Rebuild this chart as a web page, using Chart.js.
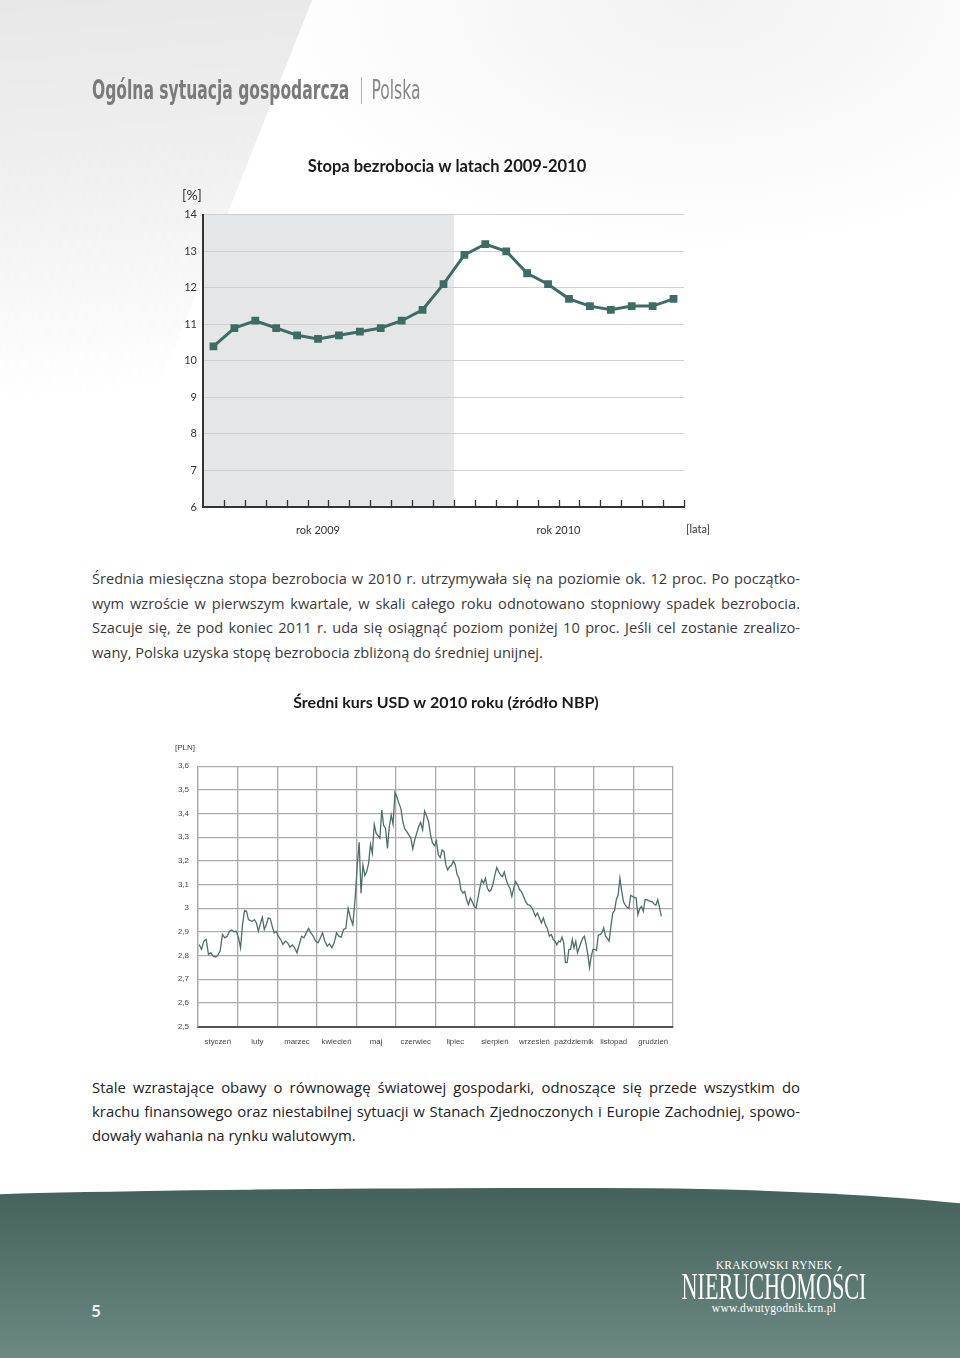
<!DOCTYPE html>
<html lang="pl">
<head>
<meta charset="utf-8">
<title>Ogólna sytuacja gospodarcza | Polska</title>
<script src="https://cdn.jsdelivr.net/npm/chart.js@4.4.1/dist/chart.umd.min.js"></script>
<style>
  html, body { margin: 0; padding: 0; }
  body {
    width: 960px; height: 1358px; position: relative; overflow: hidden;
    background: #fff; font-family: Lato, "Open Sans", sans-serif; color: #333;
  }
  .bg-wedge {
    position: absolute; left: -20px; top: -20px; width: 440px; height: 460px;
    background: linear-gradient(175deg, #e7e7e7 0%, #eeeeee 35%, rgba(255,255,255,0) 85%);
    clip-path: polygon(0 0, 340px 0, 150px 480px, 0 480px);
    filter: blur(5px);
  }
  .bg-glow {
    position: absolute; left: 250px; top: -260px; width: 900px; height: 520px; border-radius: 50%;
    background: radial-gradient(ellipse at center, #f2f2f2 0%, rgba(255,255,255,0) 70%);
  }
  .heading {
    position: absolute; left: 92px; top: 75px; white-space: nowrap;
    font-family: "Liberation Sans Narrow", "DejaVu Sans Condensed", sans-serif;
    font-size: 26px; color: #7a7a7a; transform-origin: 0 0; transform: scaleX(0.665);
  }
  .heading b { font-weight: bold; }
  .heading .sep { display: inline-block; width: 1.5px; height: 27px; background: #888; vertical-align: -5px; margin: 0 14px 0 18px; }
  .heading .light { color: #888; }
  .box { position: absolute; }
  .text { position: absolute; left: 92px; width: 708px; font-family: "Open Sans", Lato, sans-serif; }
  .text div { white-space: nowrap; text-align: justify; text-align-last: justify; }
  .text div.last { text-align-last: left; }
  .p1 { top: 566px; font-size: 14.6px; line-height: 24.5px; color: #3a3a3a; }
  .p2 { top: 1075px; font-size: 14.9px; line-height: 24px; color: #222; }
  .foot {
    position: absolute; left: -120px; top: 1188px; width: 1240px; height: 260px;
    background: linear-gradient(#45615c 0%, #5f7c76 45%, #84a09a 100%);
    border-top-left-radius: 700px 14px; border-top-right-radius: 520px 55px;
  }
  .pageno { position: absolute; left: 91px; top: 1300px; font: bold 17px Lato, sans-serif; color: #e9f0ef; }
  .logo { position: absolute; left: 674px; top: 1259px; width: 200px; text-align: center; color: #fff; font-family: "Liberation Serif", serif; }
  .logo .small { font-size: 11.5px; letter-spacing: 0.3px; line-height: 13px; }
  .logo .big { font-size: 37px; line-height: 30px; height: 30px; white-space: nowrap; transform: scaleX(0.6); transform-origin: 50% 50%; margin-left: -60px; margin-right: -60px; }
</style>
</head>
<body>
<div class="bg-glow"></div>
<div class="bg-wedge"></div>

<div class="heading"><b>Ogólna sytuacja gospodarcza</b><span class="sep"></span><span class="light">Polska</span></div>

<div class="box" style="left:150px; top:150px; width:594px; height:400px;">
  <canvas id="unemploymentChart"></canvas>
</div>

<div class="text p1">
  <div>Średnia miesięczna stopa bezrobocia w 2010 r. utrzymywała się na poziomie ok. 12 proc. Po początko-</div>
  <div>wym wzroście w pierwszym kwartale, w skali całego roku odnotowano stopniowy spadek bezrobocia.</div>
  <div>Szacuje się, że pod koniec 2011 r. uda się osiągnąć poziom poniżej 10 proc. Jeśli cel zostanie zrealizo-</div>
  <div class="last">wany, Polska uzyska stopę bezrobocia zbliżoną do średniej unijnej.</div>
</div>

<div class="box" style="left:150px; top:685px; width:592px; height:375px;">
  <canvas id="usdChart"></canvas>
</div>

<div class="text p2">
  <div>Stale wzrastające obawy o równowagę światowej gospodarki, odnoszące się przede wszystkim do</div>
  <div>krachu finansowego oraz niestabilnej sytuacji w Stanach Zjednoczonych i Europie Zachodniej, spowo-</div>
  <div class="last">dowały wahania na rynku walutowym.</div>
</div>

<div class="foot"></div>
<div class="pageno">5</div>
<div class="logo">
  <div class="small">KRAKOWSKI RYNEK</div>
  <div class="big">NIERUCHOMOŚCI</div>
  <div class="small">www.dwutygodnik.krn.pl</div>
</div>

<script>
// =========================
// DATA: unemployment 2009-2010 (monthly, %)
// =========================
const unempLabels = [
  "I 2009","II 2009","III 2009","IV 2009","V 2009","VI 2009",
  "VII 2009","VIII 2009","IX 2009","X 2009","XI 2009","XII 2009",
  "I 2010","II 2010","III 2010","IV 2010","V 2010","VI 2010",
  "VII 2010","VIII 2010","IX 2010","X 2010","XI 2010"
];
const unempValues = [
  10.4, 10.9, 11.1, 10.9, 10.7, 10.6, 10.7, 10.8, 10.9, 11.1, 11.4, 12.1,
  12.9, 13.2, 13.0, 12.4, 12.1, 11.7, 11.5, 11.4, 11.5, 11.5, 11.7
];
const unempYTicks = ["6","7","8","9","10","11","12","13","14"];
const yearLabels = ["rok 2009", "rok 2010"];
const yearLabelAt = [5, 16.5];      // category index under each year label
const months2009 = 12;              // shaded part

// =========================
// DATA: average USD rate 2010 (NBP), one value per trading day
// =========================
const monthNames = ["styczeń","luty","marzec","kwiecień","maj","czerwiec",
  "lipiec","sierpień","wrzesień","październik","listopad","grudzień"];
const usdSlots = [17, 20, 17, 17, 21, 20, 21, 21, 20, 23, 22, 22];
const usdJan = [2.847,2.826,2.861,2.868,2.805,2.812,2.798,2.794,2.802,2.819,2.889,2.875,2.882,2.903,2.908,2.901,2.903];
const usdFeb = [2.875,2.833,2.931,2.990,2.987,2.952,2.948,2.945,2.952,2.938,2.903,2.934,2.962,2.910,2.931,2.959,2.956,2.924,2.896,2.903];
const usdMar = [2.882,2.868,2.847,2.861,2.854,2.836,2.845,2.833,2.812,2.847,2.882,2.875,2.896,2.915,2.896,2.882,2.861];
const usdApr = [2.854,2.873,2.896,2.861,2.840,2.850,2.833,2.854,2.896,2.882,2.878,2.910,2.915,2.999,2.959,2.931,3.043];
const usdMay = [3.183,3.279,3.064,3.183,3.139,3.155,3.190,3.270,3.232,3.354,3.317,3.307,3.296,3.415,3.349,3.338,3.253,3.345,3.394,3.354,3.489];
const usdJun = [3.471,3.443,3.422,3.366,3.335,3.324,3.310,3.298,3.251,3.289,3.317,3.345,3.363,3.331,3.410,3.390,3.366,3.310,3.275,3.265];
const usdJul = [3.284,3.225,3.214,3.246,3.239,3.183,3.162,3.176,3.181,3.200,3.183,3.141,3.127,3.078,3.064,3.071,3.036,3.015,3.043,3.027,3.008];
const usdAug = [3.001,3.043,3.085,3.120,3.106,3.127,3.085,3.071,3.078,3.102,3.141,3.172,3.154,3.141,3.134,3.154,3.120,3.099,3.085,3.050,3.085];
const usdSep = [3.113,3.099,3.078,3.069,3.050,3.029,3.015,3.013,3.004,2.987,2.966,2.980,2.959,2.938,2.959,2.931,2.915,2.882,2.889,2.868];
const usdOct = [2.861,2.845,2.861,2.858,2.878,2.854,2.770,2.770,2.826,2.826,2.868,2.833,2.861,2.812,2.833,2.854,2.873,2.882,2.847,2.805,2.749,2.798,2.826];
const usdNov = [2.826,2.822,2.887,2.889,2.896,2.917,2.882,2.873,2.861,2.924,2.980,2.990,3.036,3.057,3.127,3.071,3.027,3.013,3.004,2.999,3.055,3.050];
const usdDec = [3.046,3.043,2.973,2.999,3.008,2.987,3.036,3.036,3.032,3.029,3.027,3.018,3.013,3.036,3.004,2.966];
const usdYTicks = ["2,5","2,6","2,7","2,8","2,9","3","3,1","3,2","3,3","3,4","3,5","3,6"];

Chart.defaults.font.family = 'Lato, "Open Sans", sans-serif';
Chart.defaults.color = "#333";
Chart.defaults.animation = false;

// empty axis on the right, only to keep the title centred like the print
const spacerAxis = w => ({
  position: "right",
  display: true,
  ticks: { display: false },
  grid: { display: false },
  border: { display: false },
  afterFit: s => { s.width = w; }
});

// =========================
// UNEMPLOYMENT CHART
// =========================
const unempDecor = {
  id: "unempDecor",
  beforeDraw(chart) {
    const { ctx, chartArea: a, scales: { x } } = chart;
    const slot = x.width / unempLabels.length;
    const edge = x.getPixelForValue(months2009 - 1) + slot / 2;
    ctx.save();
    ctx.fillStyle = "#e5e6e8";
    ctx.fillRect(a.left, a.top, edge - a.left, a.bottom - a.top);
    ctx.restore();
  },
  afterDraw(chart) {
    const { ctx, chartArea: a, scales: { x } } = chart;
    const slot = x.width / unempLabels.length;
    ctx.save();
    // small ticks pointing up from the baseline
    ctx.strokeStyle = "#333";
    ctx.lineWidth = 1.3;
    ctx.beginPath();
    for (let i = 0; i < unempLabels.length; i++) {
      const px = Math.round(x.getPixelForValue(i) + slot / 2) + 0.5;
      ctx.moveTo(px, a.bottom);
      ctx.lineTo(px, a.bottom - 7);
    }
    ctx.stroke();
    ctx.fillStyle = "#333";
    ctx.textAlign = "center";
    ctx.textBaseline = "middle";
    ctx.font = '11px Lato, "Open Sans", sans-serif';
    yearLabels.forEach((t, i) => {
      const px = x.getPixelForValue(Math.floor(yearLabelAt[i])) + (yearLabelAt[i] % 1) * slot;
      ctx.fillText(t, px, a.bottom + 23);
    });
    ctx.fillText("[lata]", a.right + 14, a.bottom + 22);
    ctx.font = '14px Lato, "Open Sans", sans-serif';
    ctx.fillText("[%]", a.left - 11, a.top - 19);
    ctx.restore();
  }
};

new Chart(document.getElementById("unemploymentChart"), {
  type: "line",
  data: {
    labels: unempLabels,
    datasets: [{
      data: unempValues,
      borderColor: "#3e6b64",
      backgroundColor: "#3e6b64",
      borderWidth: 3,
      tension: 0,
      pointStyle: "rect",
      pointRadius: 5.5,
      pointBorderWidth: 0
    }]
  },
  options: {
    responsive: true,
    maintainAspectRatio: false,
    layout: { padding: { bottom: 43 } },
    plugins: {
      legend: { display: false },
      tooltip: { enabled: false },
      title: {
        display: true,
        text: "Stopa bezrobocia w latach 2009-2010",
        color: "#1a1a1a",
        font: { size: 16.5, weight: "bold" },
        padding: { top: 7, bottom: 38 }
      }
    },
    scales: {
      x: {
        offset: true,
        grid: { display: true, drawOnChartArea: false, drawTicks: false },
        border: { display: true, color: "#333", width: 2 },
        ticks: { display: false }
      },
      y: {
        min: 6, max: 14,
        ticks: { stepSize: 1, padding: 6, color: "#333", font: { size: 11 },
                 callback: (v, i) => unempYTicks[i] },
        grid: { color: "#cfcfcf", lineWidth: 1, drawTicks: false },
        border: { display: true, color: "#333", width: 2 },
        afterFit: s => { s.width = 53; }
      },
      yr: spacerAxis(60)
    }
  },
  plugins: [unempDecor]
});

// =========================
// USD CHART
// =========================
const usdMonths = [usdJan, usdFeb, usdMar, usdApr, usdMay, usdJun,
  usdJul, usdAug, usdSep, usdOct, usdNov, usdDec];
const usdPoints = [];
usdMonths.forEach((vals, m) => {
  vals.forEach((v, i) => usdPoints.push({ x: m + (i + 0.5) / usdSlots[m], y: v }));
});

const usdDecor = {
  id: "usdDecor",
  afterDraw(chart) {
    const { ctx, chartArea: a } = chart;
    ctx.save();
    ctx.fillStyle = "#444";
    ctx.textAlign = "center";
    ctx.textBaseline = "middle";
    ctx.font = '8px "Liberation Sans", Arial, sans-serif';
    ctx.fillText("[PLN]", a.left - 13, a.top - 18);
    ctx.restore();
  }
};

new Chart(document.getElementById("usdChart"), {
  type: "line",
  data: {
    datasets: [{
      data: usdPoints,
      xAxisID: "x",
      yAxisID: "y",
      borderColor: "#4d6e69",
      borderWidth: 1.3,
      tension: 0,
      pointRadius: 0
    }]
  },
  options: {
    responsive: true,
    maintainAspectRatio: false,
    layout: { padding: { bottom: 10 } },
    plugins: {
      legend: { display: false },
      tooltip: { enabled: false },
      title: {
        display: true,
        text: "Średni kurs USD w 2010 roku (źródło NBP)",
        color: "#1a1a1a",
        font: { size: 16, weight: "bold" },
        padding: { top: 8, bottom: 54 }
      }
    },
    scales: {
      x: {
        type: "linear",
        min: 0, max: 12,
        ticks: { display: false, stepSize: 1 },
        grid: { color: "#aaaaaa", lineWidth: 1.3, drawTicks: false },
        border: { display: true, color: "#555", width: 2 }
      },
      xm: {
        type: "category",
        position: "bottom",
        labels: monthNames,
        offset: true,
        grid: { display: false },
        border: { display: false },
        ticks: { padding: 3, color: "#444", maxRotation: 0, autoSkip: false,
                 font: { size: 7.8, family: '"Liberation Sans", Arial, sans-serif' } }
      },
      y: {
        min: 2.5, max: 3.6,
        ticks: { stepSize: 0.1, padding: 9, color: "#444",
                 font: { size: 8, family: '"Liberation Sans", Arial, sans-serif' },
                 callback: (v, i) => usdYTicks[i] },
        grid: { color: "#aaaaaa", lineWidth: 1.3, drawTicks: false },
        border: { display: true, color: "#aaaaaa", width: 1.3 },
        afterFit: s => { s.width = 48; }
      },
      yr: spacerAxis(69)
    }
  },
  plugins: [usdDecor]
});
</script>
</body>
</html>
